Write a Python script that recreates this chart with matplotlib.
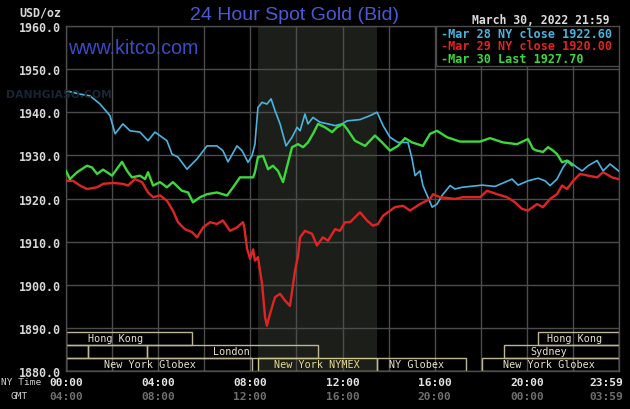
import matplotlib
matplotlib.use("Agg")
import matplotlib.pyplot as plt
from matplotlib.patches import Rectangle
import matplotlib.transforms as mtransforms

# ---------------- data ----------------
mar28_hours = [0.00, 0.61, 1.04, 1.48, 1.91, 2.13, 2.47, 2.78, 3.21, 3.56, 3.86, 4.38, 4.60, 4.86,
               5.25, 5.69, 6.12, 6.55, 6.81, 7.03, 7.42, 7.64, 7.90, 8.07, 8.20, 8.33, 8.51, 8.72,
               8.90, 9.07, 9.29, 9.55, 9.81, 10.03, 10.16, 10.37, 10.50, 10.72, 11.02, 11.37, 11.68,
               11.98, 12.20, 12.76, 13.19, 13.50, 13.76, 14.06, 14.41, 14.84, 15.02, 15.15, 15.36,
               15.49, 15.71, 15.89, 16.10, 16.32, 16.67, 16.88, 17.19, 18.06, 18.62, 19.36, 19.62,
               20.05, 20.49, 20.79, 21.01, 21.31, 21.57, 21.79, 22.18, 22.40, 22.66, 23.05, 23.31,
               23.61, 23.98]
mar28_price = [1945.0, 1944.2, 1943.8, 1941.9, 1939.2, 1935.0, 1937.3, 1935.7, 1935.4, 1933.4, 1935.4,
               1933.4, 1930.3, 1929.6, 1926.8, 1929.2, 1932.2, 1932.2, 1931.1, 1928.5, 1932.2, 1931.1,
               1928.4, 1929.9, 1932.6, 1941.1, 1942.3, 1941.9, 1943.1, 1940.4, 1937.3, 1932.2, 1934.2,
               1936.5, 1935.7, 1939.6, 1937.3, 1938.8, 1937.7, 1937.3, 1936.9, 1937.3, 1938.0, 1938.3,
               1939.2, 1940.0, 1936.9, 1934.2, 1933.0, 1933.0, 1929.2, 1925.3, 1926.4, 1923.0, 1920.3,
               1918.0, 1918.7, 1920.7, 1923.0, 1922.2, 1922.6, 1923.1, 1922.8, 1924.5, 1923.1, 1924.1,
               1924.7, 1924.1, 1923.0, 1924.5, 1927.2, 1928.8, 1927.2, 1926.4, 1927.6, 1928.8, 1926.4,
               1928.0, 1926.4]

mar29_hours = [0.00, 0.30, 0.61, 0.91, 1.35, 1.61, 2.04, 2.47, 2.69, 2.99, 3.30, 3.56, 3.78, 4.08,
               4.38, 4.64, 4.86, 5.16, 5.47, 5.69, 5.95, 6.25, 6.55, 6.81, 7.12, 7.42, 7.68, 7.73,
               7.86, 7.99, 8.12, 8.20, 8.33, 8.51, 8.64, 8.72, 8.85, 9.07, 9.29, 9.51, 9.72, 9.94,
               10.07, 10.16, 10.37, 10.68, 10.89, 11.15, 11.37, 11.68, 11.89, 12.11, 12.33, 12.76,
               13.06, 13.32, 13.54, 13.76, 14.28, 14.63, 14.93, 15.36, 15.80, 15.93, 16.23, 16.88,
               17.23, 17.97, 18.27, 18.71, 19.14, 19.49, 19.79, 20.05, 20.44, 20.70, 21.01, 21.31,
               21.53, 21.74, 22.01, 22.31, 22.66, 23.05, 23.31, 23.70, 23.98]
mar29_price = [1924.1, 1924.1, 1923.0, 1922.2, 1922.6, 1923.4, 1923.6, 1923.4, 1923.0, 1924.5, 1923.8,
               1921.4, 1920.3, 1920.7, 1919.5, 1917.2, 1914.5, 1912.9, 1912.2, 1911.0, 1913.3, 1914.5,
               1914.1, 1914.9, 1912.5, 1913.3, 1914.5, 1913.6, 1908.3, 1906.0, 1908.2, 1905.6, 1906.4,
               1900.2, 1892.5, 1890.5, 1893.2, 1897.1, 1897.9, 1896.3, 1895.1, 1903.3, 1906.7, 1911.0,
               1912.5, 1911.8, 1909.1, 1911.0, 1910.2, 1912.9, 1912.5, 1914.5, 1914.5, 1916.8, 1914.9,
               1913.7, 1914.1, 1916.0, 1918.0, 1918.3, 1917.2, 1918.7, 1919.9, 1921.0, 1920.3, 1919.9,
               1920.3, 1920.3, 1921.8, 1921.0, 1920.3, 1919.1, 1917.6, 1917.2, 1918.7, 1918.0, 1919.9,
               1921.0, 1923.0, 1922.2, 1924.1, 1925.7, 1925.3, 1924.9, 1926.1, 1924.9, 1924.5]

mar30_hours = [0.00, 0.17, 0.48, 0.91, 1.13, 1.35, 1.61, 2.00, 2.43, 2.65, 2.86, 3.21, 3.43, 3.56,
               3.78, 4.08, 4.38, 4.64, 5.03, 5.30, 5.51, 5.82, 6.12, 6.55, 6.99, 7.25, 7.55, 7.77,
               8.12, 8.20, 8.33, 8.55, 8.77, 8.98, 9.20, 9.42, 9.64, 9.81, 10.07, 10.29, 10.50,
               10.72, 10.94, 11.24, 11.55, 11.76, 12.02, 12.20, 12.54, 12.98, 13.41, 13.72, 14.06,
               14.41, 14.71, 15.02, 15.49, 15.80, 16.10, 16.54, 17.10, 17.97, 18.40, 18.97, 19.57,
               20.05, 20.27, 20.44, 20.70, 20.92, 21.14, 21.31, 21.53, 21.74, 21.96]
mar30_price = [1926.4, 1924.5, 1926.1, 1927.6, 1927.2, 1925.7, 1926.7, 1925.3, 1928.5, 1926.4, 1924.9,
               1925.3, 1924.5, 1926.1, 1923.0, 1923.8, 1922.6, 1923.8, 1921.8, 1921.4, 1919.1, 1920.3,
               1921.0, 1921.4, 1920.7, 1922.6, 1924.9, 1924.9, 1924.9, 1926.1, 1929.6, 1929.9, 1926.8,
               1927.6, 1926.4, 1923.8, 1928.4, 1931.9, 1932.6, 1931.9, 1933.0, 1935.0, 1937.3, 1936.5,
               1935.4, 1936.5, 1937.3, 1936.1, 1933.4, 1932.2, 1934.6, 1933.0, 1931.1, 1932.2, 1934.0,
               1933.0, 1932.2, 1935.0, 1935.7, 1934.2, 1933.2, 1933.2, 1934.0, 1933.0, 1932.6, 1933.8,
               1931.5, 1931.1, 1930.8, 1931.9, 1931.1, 1930.3, 1928.4, 1928.8, 1927.7]

series_labels = ["Mar 28 NY close 1922.60", "Mar 29 NY close 1920.00", "Mar 30 Last 1927.70"]
series_colors = ["#4ab4e0", "#e02424", "#3cd83c"]

ny_tick_hours = [0, 4, 8, 12, 16, 20, 23.983]
ny_tick_labels = ["00:00", "04:00", "08:00", "12:00", "16:00", "20:00", "23:59"]
gmt_tick_labels = ["04:00", "08:00", "12:00", "16:00", "20:00", "00:00", "03:59"]

y_ticks = [1880, 1890, 1900, 1910, 1920, 1930, 1940, 1950, 1960]

# trading sessions: row (0 = top), start hour, end hour, label, label hour
session_rows = [0, 0, 1, 1, 1, 1, 2, 2, 2, 2]
session_start = [0.0, 20.5, 0.0, 0.96, 3.5, 19.0, 0.0, 8.33, 13.5, 18.05]
session_end = [5.47, 24.0, 0.96, 3.5, 10.94, 24.0, 8.06, 13.5, 17.35, 24.0]
session_names = ["Hong Kong", "Hong Kong", "", "", "London", "Sydney",
                 "New York Globex", "New York NYMEX", "NY Globex", "New York Globex"]
session_label_at = [2.13, 22.05, 0, 0, 7.19, 20.97, 3.66, 10.9, 15.2, 20.97]

nymex_start, nymex_end = 8.33, 13.5

# ---------------- figure ----------------
W, H = 630, 410
fig = plt.figure(figsize=(W / 100, H / 100), dpi=100, facecolor="black")
ax = fig.add_axes([66 / W, 1 - 372 / H, (619 - 66) / W, (372 - 27) / H])
ax.set_facecolor("black")
ax.set_xlim(0, 24)
ax.set_ylim(1880, 1960)

mono = "DejaVu Sans Mono"
grid_c = "#4c4c4c"

ax.axvspan(nymex_start, nymex_end, color="#1c1e1a", zorder=0.1, lw=0)

ax.set_xticks(range(0, 25, 2))
ax.set_yticks(y_ticks)
ax.set_yticklabels([f"{v:.1f}" for v in y_ticks])
ax.set_xticklabels([])
ax.tick_params(axis="both", length=0, colors="#d8d8d8")
ax.tick_params(axis="y", pad=4, labelsize=8.4)
for lab in ax.get_yticklabels():
    lab.set_fontfamily(mono)
    lab.set_fontweight("bold")
ax.grid(True, color=grid_c, lw=1)
ax.set_axisbelow(True)
for s in ax.spines.values():
    s.set_color(grid_c)
    s.set_linewidth(1)

# price lines
ax.plot(mar28_hours, mar28_price, color=series_colors[0], lw=1.2, zorder=3)
ax.plot(mar29_hours, mar29_price, color=series_colors[1], lw=1.7, zorder=3)
ax.plot(mar30_hours, mar30_price, color=series_colors[2], lw=1.7, zorder=3)

# session boxes
row_top = [1889.0, 1886.1, 1883.1]
row_bot = [1886.1, 1883.1, 1880.0]
box_c = "#bdb596"
for r, a, b, name, lx in zip(session_rows, session_start, session_end, session_names, session_label_at):
    ec = "#cfc68c" if "NYMEX" in name else box_c
    ax.add_patch(Rectangle((a, row_bot[r]), b - a, row_top[r] - row_bot[r], fill=False,
                           ec=ec, lw=1, zorder=2))
    if name:
        tc = "#e6dc90" if "NYMEX" in name else "#e8e2cc"
        ax.text(lx, (row_top[r] + row_bot[r]) / 2, name, ha="center", va="center",
                fontsize=7.3, family=mono, color=tc, zorder=2.5)

# legend box
ax.add_patch(Rectangle((16.06, 1950.7), 24 - 16.06, 1960 - 1950.7, fc="black", ec=grid_c,
                       lw=1, zorder=4))
for i, (lab, c) in enumerate(zip(series_labels, series_colors)):
    fig.text(441.5 / W, 1 - (34.5 + i * 12.3) / H, "-" + lab, color=c, fontsize=8.5,
             family=mono, fontweight="bold", ha="left", va="center", zorder=5)

# x labels
trans = mtransforms.blended_transform_factory(ax.transData, fig.transFigure)
for h, ny, gmt in zip(ny_tick_hours, ny_tick_labels, gmt_tick_labels):
    ha = "center"
    xx = h
    if h > 23.5:
        ha = "right"
        xx = h + 5 / 23.04
    ax.text(xx, 1 - 383 / H, ny, transform=trans, ha=ha, va="center", fontsize=8.1,
            family=mono, fontweight="bold", color="#e4e4e4", clip_on=False)
    ax.text(xx, 1 - 397 / H, gmt, transform=trans, ha=ha, va="center", fontsize=8.1,
            family=mono, fontweight="bold", color="#6e6e6e", clip_on=False)

fig.text(1 / W, 1 - 383 / H, "NY Time", fontsize=6.8, family=mono, color="#d0d0d0",
         ha="left", va="center")
fig.text(19.5 / W, 1 - 397 / H, "GMT", fontsize=6.8, family=mono, color="#d0d0d0",
         ha="center", va="center")

# header texts
fig.text(61 / W, 1 - 13 / H, "USD/oz", fontsize=8.4, family=mono, fontweight="bold",
         color="#d8d8d8", ha="right", va="center")
fig.text(294 / W, 1 - 15.5 / H, "24 Hour Spot Gold (Bid)", fontsize=14, family="Liberation Sans",
         color="#4a5ad6", ha="center", va="center")
fig.text(609 / W, 1 - 20 / H, "March 30, 2022 21:59", fontsize=8.3, family=mono,
         fontweight="bold", color="#dcdcdc", ha="right", va="center")
fig.text(68 / W, 1 - 49 / H, "www.kitco.com", fontsize=14.2, family="Liberation Sans",
         color="#3a4cc8", ha="left", va="center", zorder=6)
fig.text(6 / W, 1 - 95 / H, "DANHGIASO.COM", fontsize=7.8, family="DejaVu Sans",
         fontweight="bold", color="#1a2533", ha="left", va="center", zorder=1)

fig.savefig("out.png", dpi=100, facecolor="black")
